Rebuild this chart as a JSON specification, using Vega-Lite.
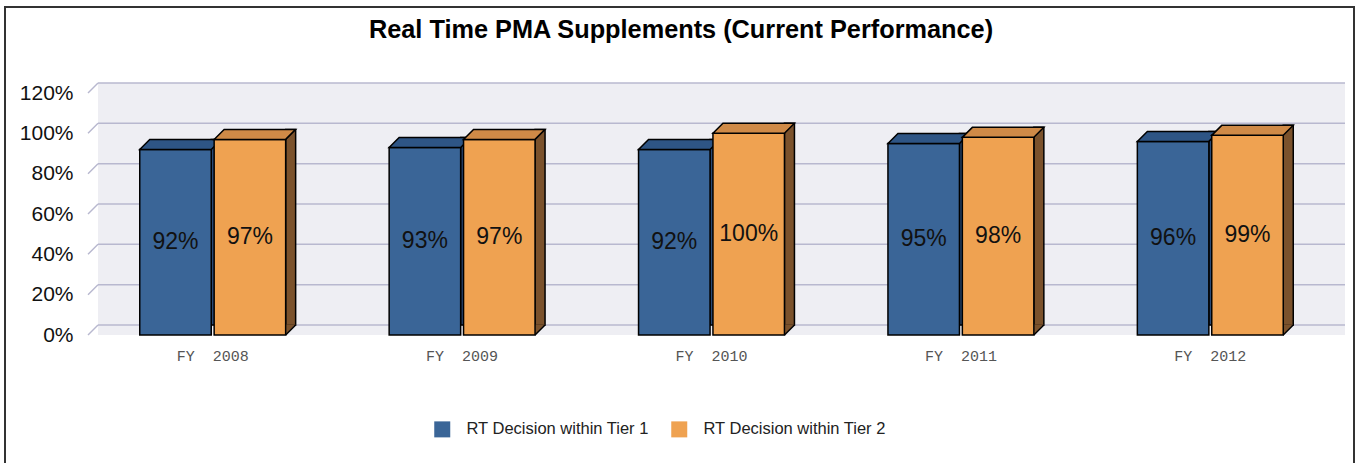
{
"$schema":"https://vega.github.io/schema/vega-lite/v6.json",
"width":1349,"height":460,
"autosize":{"type":"none"},
"padding":{"left":5,"top":7,"right":1,"bottom":0},
"background":"white",
"config":{"view":{"stroke":"#333333","strokeWidth":2,"fill":"white"},"font":"Liberation Sans"},
"title":{"text":"Real Time PMA Supplements (Current Performance)","fontSize":25.3,"fontWeight":"bold","font":"Liberation Sans","color":"#000000","anchor":"middle","frame":"group","baseline":"alphabetic","offset":-31,"dy":25,"dx":1.5},
"datasets":{
"bars":[
{"year":"FY 2008","series":"RT Decision within Tier 1","value":0.92},
{"year":"FY 2008","series":"RT Decision within Tier 2","value":0.97},
{"year":"FY 2009","series":"RT Decision within Tier 1","value":0.93},
{"year":"FY 2009","series":"RT Decision within Tier 2","value":0.97},
{"year":"FY 2010","series":"RT Decision within Tier 1","value":0.92},
{"year":"FY 2010","series":"RT Decision within Tier 2","value":1.00},
{"year":"FY 2011","series":"RT Decision within Tier 1","value":0.95},
{"year":"FY 2011","series":"RT Decision within Tier 2","value":0.98},
{"year":"FY 2012","series":"RT Decision within Tier 1","value":0.96},
{"year":"FY 2012","series":"RT Decision within Tier 2","value":0.99}
],
"ticks":[{"v":0},{"v":0.2},{"v":0.4},{"v":0.6},{"v":0.8},{"v":1.0},{"v":1.2}]
},
"layer":[
{"layer":[
 {"data":{"values":[{"part":"wall"}]},
  "mark":{"type":"rect","fill":"#EEEEF3","yOffset":-10},
  "encoding":{
   "x":{"datum":0,"type":"quantitative","scale":{"domain":[0,1],"range":[93,1340],"nice":false,"zero":false},"axis":null},
   "x2":{"datum":1},
   "y":{"datum":1.2,"type":"quantitative","scale":{"domain":[0,1.2],"range":[328,86],"nice":false},"axis":null},
   "y2":{"datum":0}}},
 {"data":{"name":"ticks"},
  "mark":{"type":"rule","color":"#B8B8CF","strokeWidth":1.5,"yOffset":-10},
  "encoding":{"x":{"datum":0,"type":"quantitative"},"x2":{"datum":1},"y":{"field":"v","type":"quantitative"}}},
 {"data":{"name":"ticks"},
  "mark":{"type":"rule","color":"#B8B8CF","strokeWidth":1.5,"xOffset":-10,"y2Offset":-10},
  "encoding":{"x":{"datum":0,"type":"quantitative"},"x2":{"datum":0},"y":{"field":"v","type":"quantitative"},"y2":{"field":"v"}}}
]},
{"data":{"name":"bars"},
 "layer":[
 {"transform":[{"filter":{"field":"series","equal":"RT Decision within Tier 1"}}],
  "mark":{"type":"bar","width":10,"xOffset":3.55,"yOffset":-10,"y2Offset":-10,"fill":"#2A4A75","stroke":"#000000","strokeWidth":1.5},
  "encoding":{
   "x":{"field":"year","type":"nominal","scale":{"type":"band","domain":["FY 2008","FY 2009","FY 2010","FY 2011","FY 2012"],"range":[83,1330],"paddingInner":0.415,"paddingOuter":0.2075},
        "axis":{"orient":"bottom","title":null,"ticks":false,"domain":false,"grid":false,"labelAngle":0,"labelFont":"Liberation Mono","labelFontSize":15,"labelColor":"#555555","labelPadding":13,"offset":-132,"labelExpr":"replace(datum.label, ' ', '\u00a0\u00a0')"}},
   "y":{"field":"value","type":"quantitative","scale":{"domain":[0,1.2],"range":[328,86],"nice":false},
        "axis":{"orient":"left","title":null,"values":[0,0.2,0.4,0.6,0.8,1,1.2],"format":".0%","ticks":false,"domain":false,"grid":false,"labelFont":"Liberation Sans","labelFontSize":21,"labelColor":"#111111","labelPadding":15,"offset":-83}},
   "y2":{"datum":0}}},
 {"transform":[{"filter":{"field":"series","equal":"RT Decision within Tier 1"}}],
  "mark":{"type":"bar","width":71.5,"xOffset":-37.2,"stroke":"#000000","strokeWidth":1.5},
  "encoding":{
   "x":{"field":"year","type":"nominal"},
   "y":{"field":"value","type":"quantitative"},
   "color":{"field":"series","type":"nominal","scale":{"domain":["RT Decision within Tier 1","RT Decision within Tier 2"],"range":["#3A6597","#EFA251"]},
     "legend":{"orient":"none","legendX":429,"legendY":414,"direction":"horizontal","title":null,"symbolType":"square","symbolSize":256,"symbolStrokeWidth":0,"labelFont":"Liberation Sans","labelFontSize":16.5,"labelColor":"#222222","labelOffset":16,"labelLimit":400,"columnPadding":22,"padding":0}}}},
 {"transform":[{"filter":{"field":"series","equal":"RT Decision within Tier 1"}}],
  "mark":{"type":"point","shape":"M-0.715,0L0.715,0L0.915,-0.2L-0.515,-0.2Z","size":10000,"xOffset":-37.2,"filled":true,"fill":"#2E5585","stroke":"#000000","strokeWidth":1.5,"opacity":1},
  "encoding":{"x":{"field":"year","type":"nominal"},"y":{"field":"value","type":"quantitative"}}},
 {"transform":[{"filter":{"field":"series","equal":"RT Decision within Tier 2"}}],
  "mark":{"type":"bar","width":10,"xOffset":77.95,"yOffset":-10,"y2Offset":-10,"fill":"#7B522C","stroke":"#000000","strokeWidth":1.5},
  "encoding":{"x":{"field":"year","type":"nominal"},"y":{"field":"value","type":"quantitative"},"y2":{"datum":0}}},
 {"transform":[{"filter":{"field":"series","equal":"RT Decision within Tier 2"}}],
  "mark":{"type":"point","shape":"M0,0L0,-0.215L0.2,-0.215Z","size":10000,"xOffset":72.95,"filled":true,"fill":"#7B522C","strokeWidth":0,"opacity":1},
  "encoding":{"x":{"field":"year","type":"nominal"},"y":{"datum":0,"type":"quantitative"}}},
 {"transform":[{"filter":{"field":"series","equal":"RT Decision within Tier 2"}}],
  "mark":{"type":"point","shape":"M0,0L0.2,-0.2","size":10000,"xOffset":72.95,"filled":false,"stroke":"#000000","strokeWidth":1.5,"opacity":1},
  "encoding":{"x":{"field":"year","type":"nominal"},"y":{"datum":0,"type":"quantitative"}}},
 {"transform":[{"filter":{"field":"series","equal":"RT Decision within Tier 2"}}],
  "mark":{"type":"bar","width":71.5,"xOffset":37.2,"stroke":"#000000","strokeWidth":1.5},
  "encoding":{
   "x":{"field":"year","type":"nominal"},
   "y":{"field":"value","type":"quantitative"},
   "color":{"field":"series","type":"nominal"}}},
 {"transform":[{"filter":{"field":"series","equal":"RT Decision within Tier 2"}}],
  "mark":{"type":"point","shape":"M-0.715,0L0.715,0L0.915,-0.2L-0.515,-0.2Z","size":10000,"xOffset":37.2,"filled":true,"fill":"#CF8A47","stroke":"#000000","strokeWidth":1.5,"opacity":1},
  "encoding":{"x":{"field":"year","type":"nominal"},"y":{"field":"value","type":"quantitative"}}}
 ]},
{"data":{"name":"bars"},
 "mark":{"type":"text","font":"Liberation Sans","fontSize":23,"color":"#111111","baseline":"middle","align":"center"},
 "encoding":{
  "x":{"field":"year","type":"nominal","scale":{"type":"band","domain":["FY 2008","FY 2009","FY 2010","FY 2011","FY 2012"],"range":[83,1330],"paddingInner":0.415,"paddingOuter":0.2075},"axis":null},
  "xOffset":{"field":"series","type":"nominal","scale":{"type":"band","domain":["RT Decision within Tier 1","RT Decision within Tier 2"],"paddingInner":0.04,"paddingOuter":0}},
  "y":{"field":"value","type":"quantitative","scale":{"domain":[0,2.4],"range":[328,86],"nice":false},"axis":null},
  "text":{"field":"value","type":"quantitative","format":".0%"}}}
],
"resolve":{"scale":{"x":"independent","y":"independent"}}
}
